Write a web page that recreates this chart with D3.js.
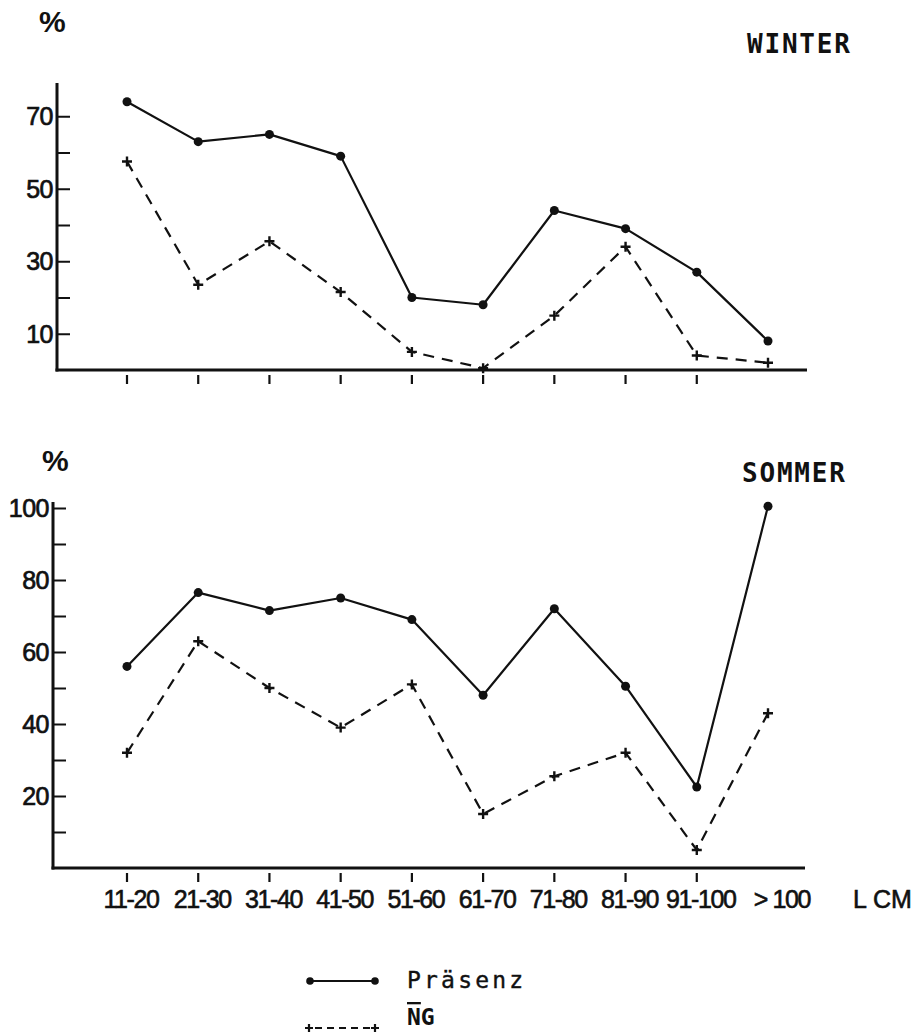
<!DOCTYPE html>
<html>
<head>
<meta charset="utf-8">
<script src="https://cdn.jsdelivr.net/npm/d3@7/dist/d3.min.js"></script>
<style>
  html, body { margin: 0; padding: 0; background: #fff; }
  svg { display: block; }
</style>
</head>
<body>
<svg id="chart" width="920" height="1035"></svg>
<script>
// ---- data ----
const categories = ["11-20","21-30","31-40","41-50","51-60","61-70","71-80","81-90","91-100","> 100"];
const winterPraesenz = [74, 63, 65, 59, 20, 18, 44, 39, 27, 8];
const winterNG       = [57.5, 23.5, 35.5, 21.5, 5, 0.5, 15, 34, 4, 2];
const sommerPraesenz = [56, 76.5, 71.5, 75, 69, 48, 72, 50.5, 22.5, 100.5];
const sommerNG       = [32, 63, 50, 39, 51, 15, 25.5, 32, 5, 43];
const winterTicks = [10, 30, 50, 70];
const winterMinor = [20, 40, 60];
const sommerTicks = [20, 40, 60, 80, 100];
const sommerMinor = [10, 30, 50, 70, 90];
const tickedCats = categories.slice(0, 9);

const svg = d3.select("#chart");
const ink = "#111";

const x = d3.scalePoint().domain(categories).range([127, 768]);

function panel(cfg) {
  const g = svg.append("g");
  const y = d3.scaleLinear().domain([0, cfg.max]).range([cfg.base, cfg.top]);

  // y axis line
  g.append("line").attr("x1", cfg.x0).attr("x2", cfg.x0)
    .attr("y1", cfg.axisTop).attr("y2", cfg.base + 1.5)
    .attr("stroke", ink).attr("stroke-width", 3);
  // x axis line
  g.append("line").attr("x1", cfg.x0 - 1.5).attr("x2", cfg.x1)
    .attr("y1", cfg.base).attr("y2", cfg.base)
    .attr("stroke", ink).attr("stroke-width", 3);

  // y ticks (inward) major + minor
  const yAxis = d3.axisRight(y).tickValues(cfg.ticks).tickSize(13).tickFormat("");
  const ya = g.append("g").attr("transform", `translate(${cfg.x0},0)`).call(yAxis);
  ya.select(".domain").remove();
  ya.selectAll(".tick line").attr("stroke", ink).attr("stroke-width", 2);
  const yMinor = d3.axisRight(y).tickValues(cfg.minor).tickSize(13).tickFormat("");
  const ym = g.append("g").attr("transform", `translate(${cfg.x0},0)`).call(yMinor);
  ym.select(".domain").remove();
  ym.selectAll(".tick line").attr("stroke", ink).attr("stroke-width", 2);

  // y labels
  g.selectAll("text.ylab").data(cfg.ticks).join("text")
    .attr("class", "ylab")
    .attr("x", cfg.x0 - 4).attr("y", d => y(d) + 9)
    .attr("text-anchor", "end")
    .attr("font-family", "Liberation Sans, Arial, sans-serif")
    .attr("font-size", 25).attr("letter-spacing", -0.5)
    .attr("fill", ink).attr("stroke", ink).attr("stroke-width", 0.7)
    .text(d => d);

  // x ticks below axis
  g.selectAll("line.xt").data(tickedCats).join("line")
    .attr("class", "xt")
    .attr("x1", d => x(d)).attr("x2", d => x(d))
    .attr("y1", cfg.base + 5).attr("y2", cfg.base + 14)
    .attr("stroke", ink).attr("stroke-width", 2.2);

  // % label
  g.append("text").attr("x", cfg.pctX).attr("y", cfg.pctY)
    .attr("font-family", "Liberation Sans, Arial, sans-serif")
    .attr("font-weight", "bold").attr("font-size", 30)
    .attr("fill", ink).text("%");

  // title
  g.append("text").attr("x", cfg.titleX).attr("y", cfg.titleY)
    .attr("font-family", "DejaVu Sans Mono, monospace")
    .attr("font-weight", "bold").attr("font-size", 26)
    .attr("letter-spacing", 1.8)
    .attr("fill", ink).text(cfg.title);

  const line = d3.line().x((d, i) => x(categories[i])).y(d => y(d));

  // Präsenz (solid)
  g.append("path").datum(cfg.p).attr("d", line)
    .attr("fill", "none").attr("stroke", ink).attr("stroke-width", 2.2)
    .attr("stroke-linejoin", "round");
  g.selectAll("circle.pt").data(cfg.p).join("circle")
    .attr("class", "pt")
    .attr("cx", (d, i) => x(categories[i])).attr("cy", d => y(d))
    .attr("r", 4.5).attr("fill", ink);

  // NG (dashed)
  g.append("path").datum(cfg.ng).attr("d", line)
    .attr("fill", "none").attr("stroke", ink).attr("stroke-width", 2.2)
    .attr("stroke-dasharray", "11,8");
  g.selectAll("path.ng").data(cfg.ng).join("path")
    .attr("class", "ng")
    .attr("d", "M-5,0H5M0,-5V5")
    .attr("transform", (d, i) => `translate(${x(categories[i])},${y(d)})`)
    .attr("stroke", ink).attr("stroke-width", 2.4).attr("fill", "none");

  return y;
}

panel({ max: 80, base: 370, top: 80, axisTop: 83, x0: 57, x1: 807,
  ticks: winterTicks, minor: winterMinor, p: winterPraesenz, ng: winterNG,
  pctX: 39, pctY: 32, title: "WINTER", titleX: 747, titleY: 53 });

panel({ max: 100, base: 868, top: 508, axisTop: 502, x0: 53, x1: 805,
  ticks: sommerTicks, minor: sommerMinor, p: sommerPraesenz, ng: sommerNG,
  pctX: 42, pctY: 471, title: "SOMMER", titleX: 742, titleY: 482 });

// x category labels (below bottom panel)
svg.selectAll("text.xlab").data(categories).join("text")
  .attr("class", "xlab")
  .attr("x", (d, i) => x(d) + 4 + (i === categories.length - 1 ? 10 : 0)).attr("y", 908)
  .attr("text-anchor", "middle")
  .attr("font-family", "Liberation Sans Narrow, Arial Narrow, sans-serif")
  .attr("font-size", 25).attr("letter-spacing", -1.4)
  .attr("fill", ink).attr("stroke", ink).attr("stroke-width", 0.6)
  .text(d => d);
svg.append("text").attr("x", 853).attr("y", 908)
  .attr("font-family", "Liberation Sans Narrow, Arial Narrow, sans-serif")
  .attr("font-size", 25).attr("fill", ink).attr("stroke", ink).attr("stroke-width", 0.6)
  .text("L CM");

// legend
const leg = svg.append("g");
leg.append("line").attr("x1", 310).attr("x2", 375).attr("y1", 981).attr("y2", 981)
  .attr("stroke", ink).attr("stroke-width", 2.2);
leg.selectAll("circle").data([310, 375]).join("circle")
  .attr("cx", d => d).attr("cy", 981).attr("r", 3.8).attr("fill", ink);
leg.append("text").attr("x", 407).attr("y", 988)
  .attr("font-family", "DejaVu Sans Mono, monospace").attr("font-size", 23)
  .attr("letter-spacing", 3.2).attr("fill", ink).attr("stroke", ink).attr("stroke-width", 0.4)
  .text("Präsenz");

leg.append("line").attr("x1", 309).attr("x2", 375).attr("y1", 1028).attr("y2", 1028)
  .attr("stroke", ink).attr("stroke-width", 2).attr("stroke-dasharray", "7,5")
  .attr("stroke-dashoffset", -6);
leg.selectAll("path.lp").data([309, 375]).join("path")
  .attr("class", "lp")
  .attr("d", "M-4,0H4M0,-4V4")
  .attr("transform", d => `translate(${d},1028)`)
  .attr("stroke", ink).attr("stroke-width", 2.2);
const ngText = leg.append("text").attr("x", 407).attr("y", 1025)
  .attr("font-family", "DejaVu Sans Mono, monospace").attr("font-size", 23)
  .attr("font-weight", "bold").attr("fill", ink);
ngText.append("tspan").text("N").style("text-decoration", "overline");
ngText.append("tspan").text("G");
</script>
</body>
</html>
